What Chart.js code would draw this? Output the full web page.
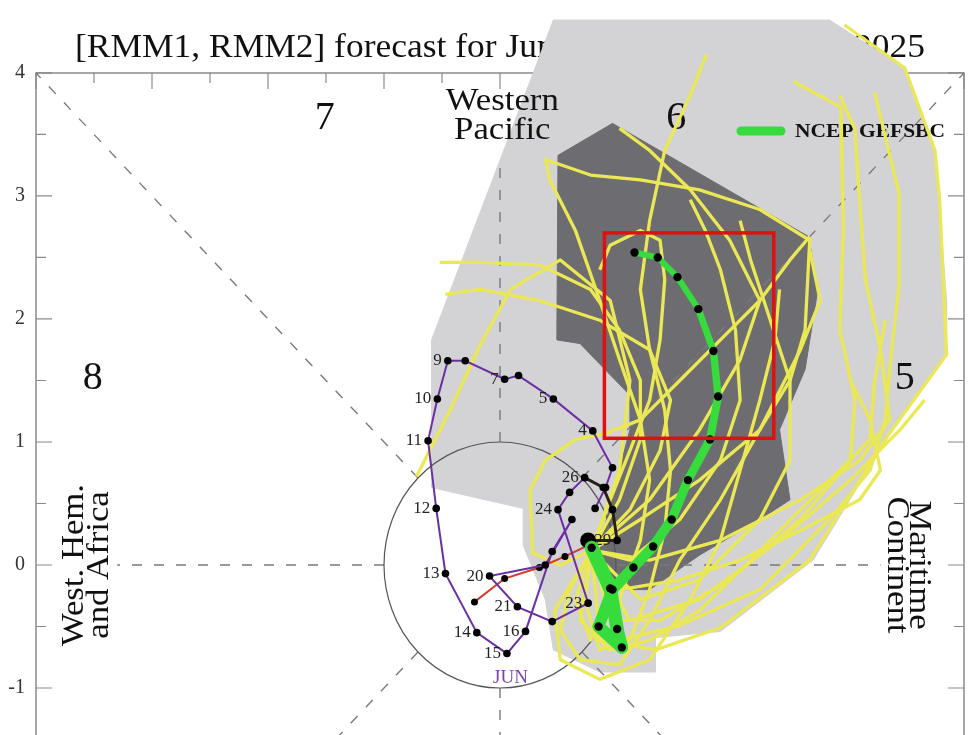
<!DOCTYPE html>
<html>
<head>
<meta charset="utf-8">
<title>RMM phase diagram</title>
<script src="https://cdn.jsdelivr.net/npm/chart.js@4.4.1/dist/chart.umd.min.js"></script>
<style>
  html, body { margin: 0; padding: 0; background: #fff; }
  #wrap { width: 980px; height: 735px; }
</style>
</head>
<body>
<div id="wrap"><canvas id="mjo" width="980" height="735"></canvas></div>
<script>
// RMM1 is the x value, RMM2 the y value everywhere below

const titleText = "[RMM1, RMM2] forecast for June 23, 2025 - July 07, 2025";

// ensemble spread (light = all members, dark = inner half)
const spreadAllX = [0.46, 2.84, 3.49, 3.75, 3.85, 3.85, 3.36, 2.70, 1.90, 1.34, 1.34, 0.86, 0.46, 0.39, 0.20, 0.20, -0.59, -0.59];
const spreadAllY = [4.43, 4.43, 4.04, 3.37, 2.15, 1.71, 1.06, 0.04, -0.54, -0.59, -0.87, -0.87, -0.69, -0.28, 0.16, 0.46, 0.63, 1.83];
const spreadMidX = [0.50, 0.97, 2.66, 2.74, 2.63, 2.41, 2.50, 2.24, 1.72, 1.29, 0.91, 0.86, 1.12, 1.12, 0.69, 0.49];
const spreadMidY = [3.33, 3.59, 2.67, 2.24, 1.59, 1.10, 0.53, 0.37, 0.08, -0.20, -0.20, 0.16, 1.10, 1.38, 1.80, 1.83];

// individual members
const memberRmm1 = [
  [0.79, 0.95, 1.38, 1.98, 2.59, 3.02, 3.06, 2.93, 2.96, 2.94, 2.53],
  [0.79, 0.73, 0.86, 1.12, 1.29, 1.42, 1.47, 1.42, 1.29, 1.21, 1.29, 1.42, 1.64, 1.78],
  [0.79, 1.03, 1.55, 2.24, 2.84, 3.19, 3.32, 3.37, 3.44, 3.44, 3.23],
  [0.79, 0.86, 1.34, 1.90, 2.67, 3.32, 3.85, 3.79, 3.75, 3.49, 2.97],
  [0.79, 0.65, 0.78, 1.03, 1.21, 1.29, 1.21, 1.03, 0.86, 0.65, 0.43, 0.39],
  [0.79, 1.21, 1.72, 2.24, 2.50, 2.63, 2.67, 2.24, 1.72, 1.21, 0.78, 0.41],
  [0.79, 0.52, 0.28, 0.26, 0.39, 0.65, 0.91, 1.21, 1.55, 1.90, 2.24, 2.50, 2.67],
  [0.79, 1.03, 1.21, 1.21, 1.03, 0.78, 0.34, -0.17, -0.52],
  [0.79, 1.12, 1.38, 1.47, 1.29, 0.86, 0.34, -0.17, -0.47],
  [0.79, 1.03, 1.12, 0.95, 0.52, 0.09, -0.17, -0.43, -0.72],
  [0.79, 1.29, 1.72, 2.07, 2.24, 1.98, 1.64, 1.29, 1.03],
  [0.79, 1.29, 1.90, 2.59, 3.10, 3.36, 3.28, 3.15, 3.10, 3.06, 2.93],
  [0.79, 1.12, 1.72, 2.41, 3.02, 3.45, 3.66],
  [0.79, 1.03, 1.55, 2.07, 2.59, 3.10, 3.28, 3.19, 3.02],
  [0.79, 1.12, 1.55, 1.90, 2.07, 2.03, 1.90, 1.77, 1.64],
  [0.79, 0.95, 1.12, 1.29, 1.38, 1.42, 1.38, 1.21, 0.95, 0.86],
  [0.79, 1.21, 1.72, 2.24, 2.50, 2.50, 2.33, 2.16, 2.07],
  [0.79, 0.60, 0.52, 0.69, 1.03, 1.29, 1.55, 1.90, 2.24, 2.59, 2.76, 2.67],
  [0.79, 0.47, 0.52, 0.86, 1.29, 1.64, 1.90, 2.07, 2.24, 2.37, 2.41],
  [0.79, 0.69, 0.95, 1.29, 1.72, 2.16, 2.59, 2.93, 3.19, 3.23, 3.32]
];
const memberRmm2 = [
  [0.12, -0.45, -0.45, -0.12, 0.37, 0.85, 1.34, 1.91, 2.72, 3.72, 3.93],
  [0.12, -0.28, -0.69, -0.61, -0.20, 0.28, 0.77, 1.26, 1.75, 2.24, 2.80, 3.37, 3.82, 4.15],
  [0.12, -0.61, -0.49, -0.20, 0.37, 0.77, 1.18, 1.69, 2.27, 3.02, 3.84],
  [0.12, -0.61, -0.69, -0.51, 0.04, 1.02, 1.71, 2.97, 3.37, 4.04, 4.39],
  [0.12, -0.28, -0.61, -0.28, 0.20, 0.69, 1.18, 1.67, 2.15, 2.72, 3.13, 3.31],
  [0.12, 0.37, 0.69, 1.10, 1.50, 1.91, 2.64, 2.89, 3.05, 3.13, 3.17, 3.29],
  [0.12, 0.00, 0.10, 0.61, 0.85, 1.02, 1.07, 1.18, 1.50, 1.83, 2.15, 2.48, 2.67],
  [0.12, 0.53, 1.02, 1.50, 1.91, 2.24, 2.44, 2.46, 2.46],
  [0.12, 0.45, 0.93, 1.34, 1.75, 1.99, 2.15, 2.24, 2.20],
  [0.12, 0.77, 1.50, 2.15, 2.48, 2.24, 1.79, 1.26, 0.72],
  [0.12, 0.53, 1.10, 1.67, 2.15, 2.64, 3.05, 3.37, 3.55],
  [0.12, 0.04, 0.20, 0.53, 0.85, 1.18, 1.75, 2.32, 2.97, 3.54, 3.82],
  [0.12, -0.45, -0.28, 0.20, 0.69, 1.10, 1.34],
  [0.12, -0.20, -0.12, 0.04, 0.28, 0.53, 0.77, 1.18, 1.50],
  [0.12, 0.04, 0.37, 0.85, 1.34, 1.91, 2.40, 2.72, 2.97],
  [0.12, 0.53, 0.93, 1.34, 1.83, 2.32, 2.64, 2.72, 2.60, 2.40],
  [0.12, -0.28, -0.12, 0.37, 0.85, 1.50, 1.99, 2.48, 2.80],
  [0.12, -0.20, -0.53, -0.77, -0.81, -0.45, 0.04, 0.53, 1.10, 1.75, 2.15, 2.56],
  [0.12, -0.37, -0.77, -0.93, -0.77, -0.28, 0.20, 0.77, 1.34, 1.83, 2.24],
  [0.12, -0.45, -0.69, -0.61, -0.37, 0.04, 0.45, 0.77, 1.02, 1.50, 1.99]
];

// ensemble mean (NCEP GEFSBC)
const meanRmm1 = [0.79, 0.95, 1.01, 1.05, 0.85, 0.97, 1.15, 1.32, 1.48, 1.62, 1.81, 1.88, 1.84, 1.71, 1.53, 1.36, 1.16];
const meanRmm2 = [0.14, -0.19, -0.52, -0.67, -0.50, -0.20, -0.02, 0.15, 0.37, 0.69, 1.02, 1.37, 1.74, 2.08, 2.34, 2.50, 2.54];

// observed (June)
const obsRmm1 = [0.82, 0.91, 0.97, 0.80, 0.46, 0.16, 0.04, -0.30, -0.45, -0.54, -0.62, -0.55, -0.47, -0.20, 0.06, 0.22, 0.45, 0.62, 0.39, -0.09, 0.15, 0.45, 0.76, 0.50, 0.60, 0.73, 0.89, 0.97, 1.01, 0.76];
const obsRmm2 = [0.46, 0.63, 0.79, 1.09, 1.35, 1.54, 1.51, 1.66, 1.66, 1.35, 1.01, 0.46, -0.07, -0.55, -0.72, -0.54, 0.11, 0.37, 0.00, -0.09, -0.34, -0.46, -0.31, 0.45, 0.59, 0.71, 0.63, 0.45, 0.20, 0.20];
const obsDayLabels = ["", "", "", "4", "5", "", "7", "", "9", "10", "11", "12", "13", "14", "15", "16", "", "", "", "20", "21", "", "23", "24", "", "26", "", "", "29", ""];
const monthLabel = { text: "JUN", x: 0.09, y: -0.92 };

// older observed segment
const prevRmm1 = [-0.22, 0.04, 0.34, 0.56, 0.76];
const prevRmm2 = [-0.30, -0.11, -0.02, 0.07, 0.16];

// phase numbers and region names
const phaseNums = ["1", "2", "3", "4", "5", "6", "7", "8"];
const phaseX = [-3.51, -1.51, 1.52, 3.49, 3.49, 1.52, -1.51, -3.51];
const phaseY = [-1.52, -3.63, -3.63, -1.52, 1.52, 3.63, 3.63, 1.52];

// highlighted box
const boxRmm1 = [0.90, 2.36];
const boxRmm2 = [1.03, 2.70];

const serif = "'Liberation Serif', 'DejaVu Serif', serif";
const pts = (xs, ys) => xs.map((x, i) => ({ x: x, y: ys[i] }));

function dash(ctx, xs, ys, a, b) {
  ctx.beginPath();
  ctx.moveTo(xs.getPixelForValue(a[0]), ys.getPixelForValue(a[1]));
  ctx.lineTo(xs.getPixelForValue(b[0]), ys.getPixelForValue(b[1]));
  ctx.stroke();
}

// two-line label, stretched a little along the text like the original
function label2(ctx, x, y, angle, l1, l2, gap) {
  ctx.save();
  ctx.translate(x, y);
  ctx.rotate(angle);
  ctx.scale(1.12, 1);
  ctx.fillText(l1, 0, -gap);
  ctx.fillText(l2, 0, gap);
  ctx.restore();
}

function drawGuides(chart) {
  const ctx = chart.ctx, xs = chart.scales.x, ys = chart.scales.y;
  const r = Math.SQRT1_2;
  ctx.save();
  ctx.strokeStyle = "#7a7a7a";
  ctx.lineWidth = 1.4;
  ctx.setLineDash([10, 12]);
  dash(ctx, xs, ys, [0, 1], [0, 3.25]);
  dash(ctx, xs, ys, [0, -1], [0, -4]);
  dash(ctx, xs, ys, [-1, 0], [-3.3, 0]);
  dash(ctx, xs, ys, [1, 0], [3.28, 0]);
  dash(ctx, xs, ys, [r, r], [4, 4]);
  dash(ctx, xs, ys, [-r, r], [-4, 4]);
  dash(ctx, xs, ys, [r, -r], [4, -4]);
  dash(ctx, xs, ys, [-r, -r], [-4, -4]);
  ctx.setLineDash([]);

  // unit circle
  const cx = xs.getPixelForValue(0), cy = ys.getPixelForValue(0);
  ctx.strokeStyle = "#555";
  ctx.lineWidth = 1.2;
  ctx.beginPath();
  ctx.ellipse(cx, cy, xs.getPixelForValue(1) - cx, cy - ys.getPixelForValue(1), 0, 0, Math.PI * 2);
  ctx.stroke();

  ctx.fillStyle = "#111";
  ctx.textAlign = "center";
  ctx.textBaseline = "middle";
  ctx.font = "40px " + serif;
  phaseNums.forEach((n, i) => {
    ctx.fillText(n, xs.getPixelForValue(phaseX[i]), ys.getPixelForValue(phaseY[i]));
  });

  ctx.font = "31px " + serif;
  label2(ctx, xs.getPixelForValue(0.02), ys.getPixelForValue(3.65), 0, "Western", "Pacific", 14.5);
  label2(ctx, xs.getPixelForValue(-3.56), ys.getPixelForValue(0), -Math.PI / 2, "West. Hem.", "and Africa", 12.5);
  label2(ctx, xs.getPixelForValue(3.51), ys.getPixelForValue(0), Math.PI / 2, "Maritime", "Continent", 11);

  // legend
  ctx.strokeStyle = "#35dc3c";
  ctx.lineWidth = 9;
  ctx.lineCap = "round";
  ctx.beginPath();
  ctx.moveTo(741, 131);
  ctx.lineTo(781, 131);
  ctx.stroke();
  ctx.textAlign = "left";
  ctx.font = "bold 19px " + serif;
  const lw = ctx.measureText("NCEP GEFSBC").width;
  ctx.translate(795, 132);
  ctx.scale(150 / lw, 1);
  ctx.fillText("NCEP GEFSBC", 0, 0);
  ctx.restore();
}

function drawDayLabels(chart, meta) {
  const ctx = chart.ctx;
  ctx.save();
  ctx.fillStyle = "#222";
  ctx.font = "17px " + serif;
  ctx.textAlign = "right";
  ctx.textBaseline = "middle";
  meta.data.forEach((p, i) => {
    if (obsDayLabels[i]) ctx.fillText(obsDayLabels[i], p.x - 6, p.y);
  });
  ctx.fillStyle = "#7a45b0";
  ctx.textAlign = "center";
  ctx.font = "19px " + serif;
  ctx.fillText(monthLabel.text, chart.scales.x.getPixelForValue(monthLabel.x), chart.scales.y.getPixelForValue(monthLabel.y));
  ctx.restore();
}

const decor = {
  id: "decor",
  beforeDatasetsDraw(chart) {
    const ctx = chart.ctx, xs = chart.scales.x, ys = chart.scales.y;
    const L = xs.getPixelForValue(-4), R = xs.getPixelForValue(4);
    const T = ys.getPixelForValue(4), B = chart.height + 5;
    ctx.save();
    // frame with inward ticks every 0.5
    ctx.strokeStyle = "#8a8a8a";
    ctx.lineWidth = 1.5;
    ctx.beginPath();
    ctx.moveTo(L, B); ctx.lineTo(L, T); ctx.lineTo(R, T); ctx.lineTo(R, B);
    ctx.stroke();
    ctx.lineWidth = 1.2;
    for (let v = -4; v <= 4; v += 0.5) {
      const len = Number.isInteger(v) ? 16 : 10;
      const px = xs.getPixelForValue(v), py = ys.getPixelForValue(v);
      ctx.beginPath();
      ctx.moveTo(px, T); ctx.lineTo(px, T + len);
      if (v >= -1.5) {
        ctx.moveTo(L, py); ctx.lineTo(L + len, py);
        ctx.moveTo(R, py); ctx.lineTo(R - len, py);
      }
      ctx.stroke();
    }
    // title (sits under the spread polygon)
    ctx.fillStyle = "#111";
    ctx.font = "34px " + serif;
    ctx.textBaseline = "alphabetic";
    const w = ctx.measureText(titleText).width;
    ctx.translate(75, 57);
    ctx.scale(850 / w, 1);
    ctx.fillText(titleText, 0, 0);
    ctx.restore();
  },
  afterDatasetDraw(chart, args) {
    const ds = chart.data.datasets[args.index];
    if (ds.id === "spreadMid") drawGuides(chart);
    if (ds.id === "obs") drawDayLabels(chart, args.meta);
  },
  afterDraw(chart) {
    const ctx = chart.ctx, xs = chart.scales.x, ys = chart.scales.y;
    const x0 = xs.getPixelForValue(boxRmm1[0]), x1 = xs.getPixelForValue(boxRmm1[1]);
    const y0 = ys.getPixelForValue(boxRmm2[1]), y1 = ys.getPixelForValue(boxRmm2[0]);
    ctx.save();
    ctx.strokeStyle = "#e01010";
    ctx.lineWidth = 3.5;
    ctx.strokeRect(x0, y0, x1 - x0, y1 - y0);
    ctx.restore();
  }
};

const memberSets = memberRmm1.map((xs, k) => ({
  id: "member" + (k + 1),
  data: pts(xs, memberRmm2[k]),
  showLine: true,
  borderColor: "#ebe855",
  borderWidth: 3.3,
  borderJoinStyle: "round",
  pointRadius: 0,
  order: 6,
  clip: false
}));

const datasets = [
  {
    id: "spreadAll",
    data: pts(spreadAllX.concat(spreadAllX[0]), spreadAllY.concat(spreadAllY[0])),
    showLine: true,
    fill: "shape",
    backgroundColor: "#d3d3d6",
    borderColor: "#d3d3d6",
    borderWidth: 1,
    pointRadius: 0,
    order: 10,
    clip: false
  },
  {
    id: "spreadMid",
    data: pts(spreadMidX.concat(spreadMidX[0]), spreadMidY.concat(spreadMidY[0])),
    showLine: true,
    fill: "shape",
    backgroundColor: "#6d6d71",
    borderColor: "#6d6d71",
    borderWidth: 1,
    pointRadius: 0,
    order: 9,
    clip: false
  },
  ...memberSets,
  {
    id: "prev",
    data: pts(prevRmm1, prevRmm2),
    showLine: true,
    borderColor: "#d23a2a",
    borderWidth: 2,
    pointRadius: 3.5,
    pointBackgroundColor: "#000",
    pointBorderWidth: 0,
    order: 4
  },
  {
    id: "obs",
    data: pts(obsRmm1, obsRmm2),
    showLine: true,
    borderColor: "#6b2fa3",
    borderWidth: 2,
    segment: {
      borderColor: c => (c.p0DataIndex >= 25 ? "#2a1d1d" : "#6b2fa3"),
      borderWidth: c => (c.p0DataIndex >= 25 ? 3 : 2)
    },
    pointRadius: c => (c.dataIndex === obsRmm1.length - 1 ? 8 : 3.8),
    pointBackgroundColor: "#000",
    pointBorderWidth: 0,
    order: 3
  },
  {
    id: "mean",
    data: pts(meanRmm1, meanRmm2),
    showLine: true,
    borderColor: "#35dc3c",
    borderWidth: 8,
    borderCapStyle: "round",
    borderJoinStyle: "round",
    segment: {
      borderWidth: c => Math.max(6, 14 - c.p0DataIndex * 0.6)
    },
    pointRadius: 4.2,
    pointBackgroundColor: "#000",
    pointBorderWidth: 0,
    order: 1
  }
];

new Chart(document.getElementById("mjo"), {
  type: "scatter",
  data: { datasets: datasets },
  options: {
    responsive: false,
    animation: false,
    layout: { padding: { top: 0, right: 16, bottom: 0, left: 0 }, autoPadding: false },
    plugins: {
      legend: { display: false },
      tooltip: { enabled: false },
      title: { display: false }
    },
    scales: {
      x: { type: "linear", min: -4, max: 4, display: false },
      y: {
        type: "linear",
        min: -1.382,
        max: 4.593,
        position: "left",
        grid: { display: false, drawTicks: false },
        border: { display: false },
        ticks: {
          stepSize: 1,
          includeBounds: false,
          padding: 11,
          color: "#333",
          font: { family: serif, size: 20 }
        },
        afterFit(s) {
          s.width = 36;
          s.paddingTop = 0;
          s.paddingBottom = 0;
        }
      }
    }
  },
  plugins: [decor]
});
</script>
</body>
</html>
